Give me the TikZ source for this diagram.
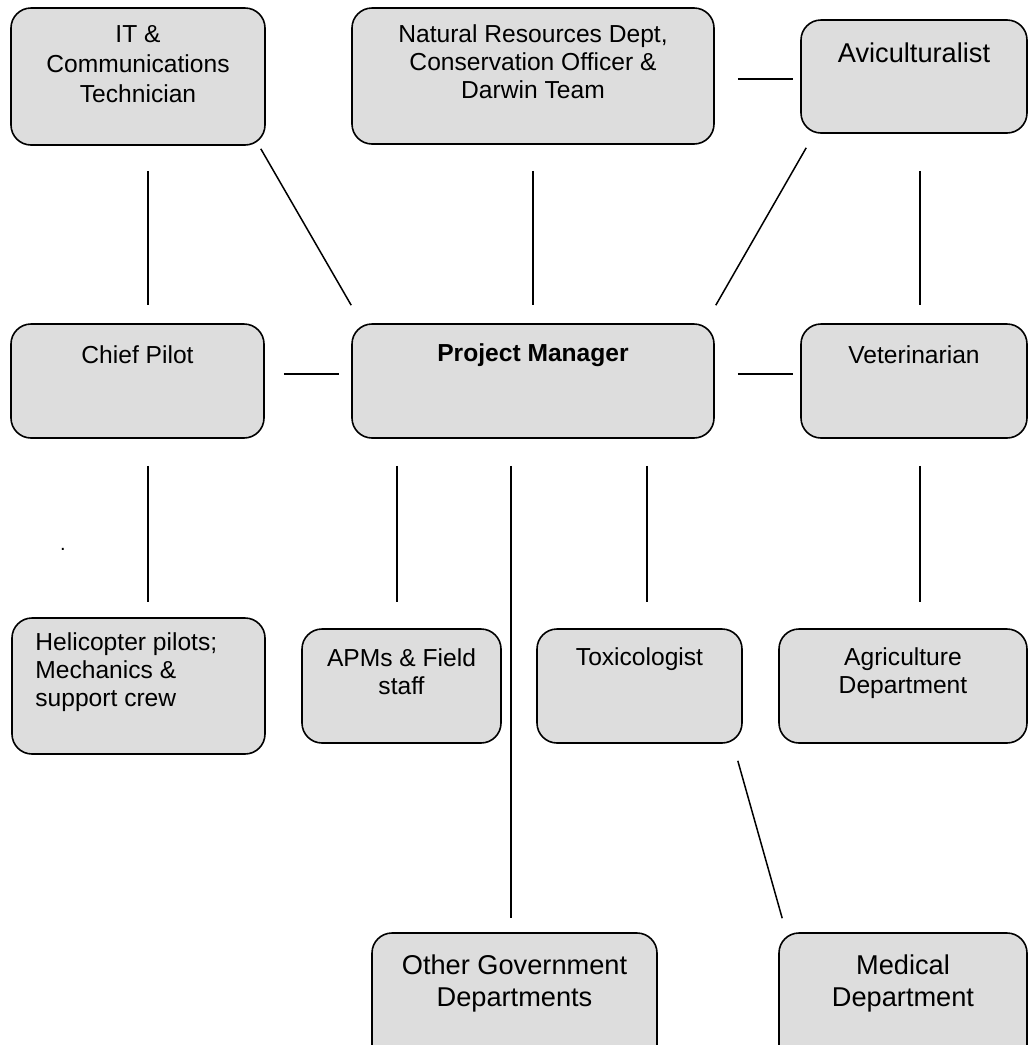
\documentclass[tikz,border=0pt]{standalone}
\usepackage{fontspec}
\setmainfont{Liberation Sans}
\usetikzlibrary{calc}
\definecolor{boxgray}{RGB}{221,221,221}
\tikzset{
  box/.style={draw, rounded corners=10pt, line width=0.8pt, fill=boxgray, inner sep=0pt},
  wh/.style 2 args={minimum width=#1*0.5pt, minimum height=#2*0.5pt},
  lbl/.style={align=center, inner sep=0pt, font=\fontsize{12.3}{14}\selectfont},
  biglbl/.style={align=center, inner sep=0pt, font=\fontsize{13.6}{16}\selectfont},
  link/.style={line width=0.75pt}
}

\begin{document}
\begin{tikzpicture}[x=0.5pt, y=-0.5pt]
    \useasboundingbox (0,0) rectangle (1028,1045);

    % boxes, top row
    \node[box, wh={254}{137}] (it) at (138,76.5) {};
    \node[box, wh={362}{136}] (nr) at (533,76) {};
    \node[box, wh={226}{113}] (avic) at (914,76.5) {};
    % middle row
    \node[box, wh={253}{114}] (pilot) at (137.5,381) {};
    \node[box, wh={362}{114}] (pm) at (533,381) {};
    \node[box, wh={226}{114}] (vet) at (914,381) {};
    % third row
    \node[box, wh={253}{136}] (heli) at (138.5,686) {};
    \node[box, wh={199}{114}] (apm) at (401.5,686) {};
    \node[box, wh={205}{114}] (tox) at (639.5,686) {};
    \node[box, wh={248}{114}] (agri) at (903,686) {};
    % bottom row
    \node[box, wh={285}{134}] (ogd) at (514.5,1000) {};
    \node[box, wh={248}{134}] (med) at (903,1000) {};

    % texts
    \node[lbl, font=\fontsize{12.3}{15}\selectfont] (itT) at (138,64) {IT \&\\Communications\\Technician};
    \node[lbl] (nrT) at (533,62) {Natural Resources Dept,\\Conservation Officer \&\\Darwin Team};
    \node[biglbl] (avicT) at (914,53) {Aviculturalist};
    \node[lbl] (pilotT) at (137.5,355) {Chief Pilot};
    \node[lbl, font=\fontsize{12.3}{14}\selectfont\bfseries] (pmT) at (533,355) {Project Manager};
    \node[lbl] (vetT) at (914,355) {Veterinarian};
    \node[lbl, align=left, anchor=west] (heliT) at (35,672) {Helicopter pilots;\\Mechanics \&\\support crew};
    \node[lbl] (apmT) at (401.5,672) {APMs \& Field\\staff};
    \node[lbl] (toxT) at (639.5,659) {Toxicologist};
    \node[lbl] (agriT) at (903,673) {Agriculture\\Department};
    \node[biglbl] (ogdT) at (514.5,983) {Other Government\\Departments};
    \node[biglbl] (medT) at (903,983) {Medical\\Department};
    \node[inner sep=0pt, anchor=base, font=\fontsize{10}{10}\selectfont] (stray) at (63,550) {.};

    % connectors, all stopping short of the boxes
    \draw[link] ($(it.south)+(10,25)$) -- ($(pilot.north)+(10.5,-18)$);
    \draw[link] ($(it.south east)+(-5,3)$) -- ($(pm.north west)+(0,-18)$);
    \draw[link] ($(nr.south)+(0,26)$) -- ($(pm.north)+(0,-18)$);
    \draw[link] ($(avic.south west)+(6,14)$) -- ($(pm.north east)+(1,-18)$);
    \draw[link] ($(avic.south)+(6,37)$) -- ($(vet.north)+(6,-18)$);
    \draw[link] ($(nr.east)+(23,3)$) -- ($(avic.west)+(-7,2.5)$);
    \draw[link] ($(pilot.east)+(19,-7)$) -- ($(pm.west)+(-12,-7)$);
    \draw[link] ($(pm.east)+(23,-7)$) -- ($(vet.west)+(-7,-7)$);
    \draw[link] ($(pilot.south)+(10.5,27)$) -- ($(heli.north)+(9.5,-15)$);
    \draw[link] ($(pm.south)+(-136,27)$) -- ($(apm.north)+(-4.5,-26)$);
    \draw[link] ($(pm.south)+(-22,27)$) -- ($(ogd.north)+(-3.5,-14)$);
    \draw[link] ($(pm.south)+(114,27)$) -- ($(tox.north)+(7.5,-26)$);
    \draw[link] ($(vet.south)+(6,27)$) -- ($(agri.north)+(17,-26)$);
    \draw[link] ($(tox.south east)+(-5,17)$) -- ($(med.north west)+(4,-14)$);
\end{tikzpicture}
\end{document}
